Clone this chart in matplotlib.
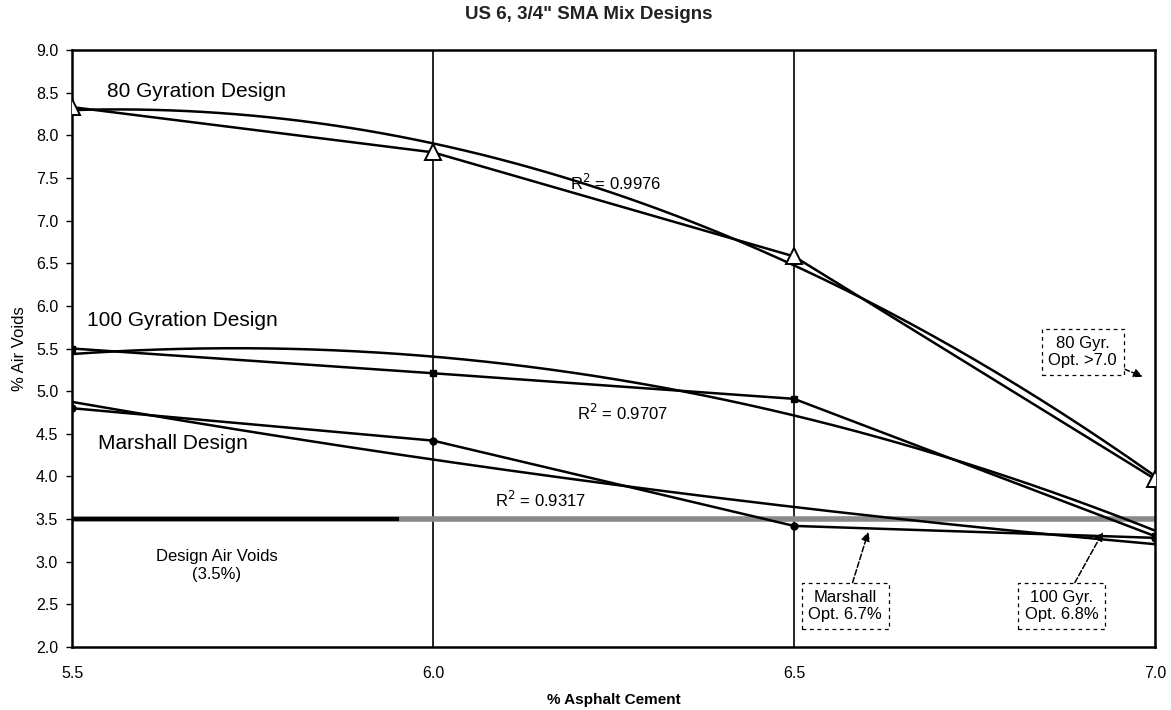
import numpy as np
import matplotlib
matplotlib.use("Agg")
import matplotlib.pyplot as plt

plt.rcParams['font.family'] = ['Liberation Sans', 'DejaVu Sans']

# % asphalt cement and measured air voids for each compaction method
asphalt = [5.5, 6.0, 6.5, 7.0]
voids_80 = [8.33, 7.80, 6.58, 3.97]
voids_100 = [5.50, 5.21, 4.91, 3.30]
voids_marshall = [4.80, 4.42, 3.42, 3.28]

r2_labels = ["R$^2$ = 0.9976", "R$^2$ = 0.9707", "R$^2$ = 0.9317"]
design_voids = 3.5

fig = plt.figure(figsize=(11.71, 7.10), dpi=100)
ax = fig.add_axes([0.0615, 0.0887, 0.9248, 0.8409])

xs = np.linspace(5.5, 7.0, 200)
series = [
    (voids_80, dict(marker='^', markersize=11, markerfacecolor='white',
                    markeredgecolor='black', markeredgewidth=1.4)),
    (voids_100, dict(marker='s', markersize=5, markerfacecolor='black',
                     markeredgecolor='black')),
    (voids_marshall, dict(marker='o', markersize=5, markerfacecolor='black',
                          markeredgecolor='black')),
]
for vals, mk in series:
    ax.plot(asphalt, vals, color='black', lw=1.8, zorder=4, **mk)
    # second order polynomial trendline
    c = np.polyfit(asphalt, vals, 2)
    ax.plot(xs, np.polyval(c, xs), color='black', lw=1.8, zorder=3)

# design air voids line
ax.axhline(design_voids, color='#8a8a8a', lw=4, zorder=2)
ax.plot([5.5, 5.95], [design_voids, design_voids], color='black', lw=3, zorder=2)

for xv in [6.0, 6.5]:
    ax.axvline(xv, color='black', lw=1.2, zorder=1)

ax.set_xlim(5.5, 7.0)
ax.set_ylim(2.0, 9.0)
ax.set_xticks([5.5, 6.0, 6.5, 7.0])
ax.set_xticklabels(['5.5', '6.0', '6.5', '7.0'])
ax.set_yticks(np.arange(2.0, 9.01, 0.5))
ax.set_yticklabels([f'{v:.1f}' for v in np.arange(2.0, 9.01, 0.5)])
ax.tick_params(axis='both', labelsize=11.5, length=4, width=1.0, direction='out')
ax.tick_params(axis='x', length=0, pad=14)
ax.tick_params(axis='y', pad=6)
for s in ax.spines.values():
    s.set_linewidth(1.8)
    s.set_color('black')

ax.set_title('US 6, 3/4" SMA Mix Designs', fontsize=13.5, fontweight='bold',
             pad=22, color='#222222', x=0.477)
ax.set_xlabel('% Asphalt Cement', fontsize=11, fontweight='bold', labelpad=8)
ax.set_ylabel('% Air Voids', fontsize=12, labelpad=6)

# series names
ax.text(5.548, 8.51, '80 Gyration Design', fontsize=15, va='center')
ax.text(5.521, 5.83, '100 Gyration Design', fontsize=15, va='center')
ax.text(5.536, 4.39, 'Marshall Design', fontsize=15, va='center')

# trendline fit quality
ax.text(6.19, 7.44, r2_labels[0], fontsize=12, va='center')
ax.text(6.2, 4.75, r2_labels[1], fontsize=12, va='center')
ax.text(6.086, 3.72, r2_labels[2], fontsize=12, va='center')

ax.text(5.7, 2.95, 'Design Air Voids\n(3.5%)', fontsize=12, ha='center',
        va='center', linespacing=1.25)

box = dict(boxstyle='square,pad=0.4', facecolor='white', edgecolor='black',
           linestyle=(0, (3, 3)), linewidth=0.9)
arrow = dict(arrowstyle='-|>', color='black', lw=1.1, linestyle='--',
             mutation_scale=13, shrinkA=0, shrinkB=0)
ax.annotate('80 Gyr.\nOpt. >7.0', xy=(6.983, 5.17), xytext=(6.9, 5.46),
            fontsize=12, ha='center', va='center', bbox=box, arrowprops=arrow)
ax.annotate('Marshall\nOpt. 6.7%', xy=(6.603, 3.35), xytext=(6.571, 2.48),
            fontsize=12, ha='center', va='center', bbox=box, arrowprops=arrow)
ax.annotate('100 Gyr.\nOpt. 6.8%', xy=(6.928, 3.35), xytext=(6.871, 2.48),
            fontsize=12, ha='center', va='center', bbox=box, arrowprops=arrow)

fig.savefig('out.png', dpi=100)
